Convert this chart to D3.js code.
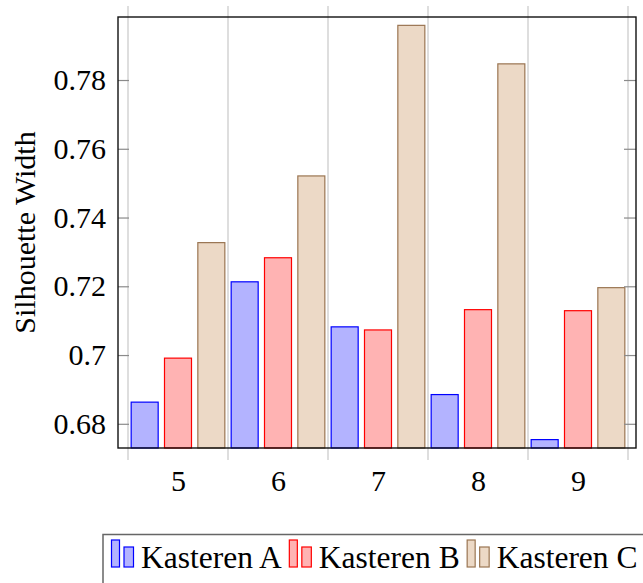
<!DOCTYPE html>
<html>
<head>
	<meta charset="utf-8">
	<script src="https://d3js.org/d3.v7.min.js"></script>
	<style>
		body { margin: 0; background: #fff; }
		svg text { fill: #000; }
		.axis path { display: none; }
	</style>
</head>
<body>
	<svg width="643" height="583"></svg>
	<script>
		var categories = [5, 6, 7, 8, 9];
		var seriesNames = ["Kasteren A", "Kasteren B", "Kasteren C"];
		var kasterenA = [0.6863, 0.7213, 0.7082, 0.6885, 0.6754];
		var kasterenB = [0.6991, 0.7283, 0.7073, 0.7132, 0.7129];
		var kasterenC = [0.7327, 0.7521, 0.7959, 0.7847, 0.7196];
		var yTicks = [0.68, 0.70, 0.72, 0.74, 0.76, 0.78];
		var yTickLabels = ["0.68", "0.7", "0.72", "0.74", "0.76", "0.78"];
		var xGrid = [4.5, 5.5, 6.5, 7.5, 8.5, 9.5];

		var fills = ["#b3b3ff", "#ffb3b3", "#ecd9c6"];
		var strokes = ["#0000ff", "#ff0000", "#9a7552"];
		var series = [kasterenA, kasterenB, kasterenC];
		var serif = "Liberation Serif";

		var svg = d3.select("svg");
		var pLeft = 118, pRight = 636, pTop = 17, pBottom = 448;

		var x = d3.scaleLinear().domain([4.4, 9.58]).range([pLeft, pRight]);
		var y = d3.scaleLinear().domain([0.67296, 0.79833]).range([pBottom, pTop]);

		// vertical grid lines, sticking out above and below the box
		svg.append("g").selectAll("line")
			.data(xGrid)
			.enter().append("line")
			.attr("x1", function(d) { return x(d); })
			.attr("x2", function(d) { return x(d); })
			.attr("y1", pTop - 11)
			.attr("y2", pBottom + 12)
			.attr("stroke", "#cccccc")
			.attr("stroke-width", 1.3);

		var offset = 1 / 3, barW = 0.27;
		series.forEach(function(vals, i) {
			svg.append("g").selectAll("rect")
				.data(vals)
				.enter().append("rect")
				.attr("x", function(d, j) { return x(categories[j] + (i - 1) * offset - barW / 2); })
				.attr("width", x(barW) - x(0))
				.attr("y", function(d) { return y(d); })
				.attr("height", function(d) { return pBottom - y(d); })
				.attr("fill", fills[i])
				.attr("stroke", strokes[i])
				.attr("stroke-width", 1.2);
		});

		// y ticks on both sides, inside
		svg.append("g")
			.attr("class", "axis")
			.attr("transform", "translate(" + pLeft + ",0)")
			.call(d3.axisLeft(y).tickValues(yTicks).tickSize(-11).tickPadding(12)
				.tickFormat(function(d, i) { return yTickLabels[i]; }))
			.selectAll("line").attr("stroke", "#8a8a8a").attr("stroke-width", 1.2);

		svg.append("g")
			.attr("class", "axis")
			.attr("transform", "translate(" + pRight + ",0)")
			.call(d3.axisRight(y).tickValues(yTicks).tickSize(-12).tickFormat(""))
			.selectAll("line").attr("stroke", "#8a8a8a").attr("stroke-width", 1.2);

		svg.append("g")
			.attr("class", "axis")
			.attr("transform", "translate(0," + pBottom + ")")
			.call(d3.axisBottom(x).tickValues(categories).tickSize(0).tickPadding(22)
				.tickFormat(d3.format("d")));

		svg.selectAll(".axis").attr("font-family", serif).attr("font-size", 30);

		// box
		svg.append("rect")
			.attr("x", pLeft).attr("y", pTop)
			.attr("width", pRight - pLeft).attr("height", pBottom - pTop)
			.attr("fill", "none").attr("stroke", "#111").attr("stroke-width", 1.4);

		svg.append("text")
			.attr("transform", "translate(35," + (pTop + pBottom) / 2 + ") rotate(-90)")
			.attr("text-anchor", "middle")
			.attr("font-family", serif)
			.attr("font-size", 30)
			.text("Silhouette Width");

		// legend
		var legend = svg.append("g");
		legend.append("rect")
			.attr("x", 103).attr("y", 534.5)
			.attr("width", 600).attr("height", 80)
			.attr("fill", "#fff").attr("stroke", "#666").attr("stroke-width", 1.5);

		var lx = 111;
		seriesNames.forEach(function(name, i) {
			legend.append("rect")
				.attr("x", lx + 0.5).attr("y", 540)
				.attr("width", 8).attr("height", 27)
				.attr("fill", fills[i]).attr("stroke", strokes[i]).attr("stroke-width", 1.2);
			legend.append("rect")
				.attr("x", lx + 13).attr("y", 547)
				.attr("width", 9.5).attr("height", 20)
				.attr("fill", fills[i]).attr("stroke", strokes[i]).attr("stroke-width", 1.2);
			var t = legend.append("text")
				.attr("x", lx + 30).attr("y", 568)
				.attr("font-family", serif)
				.attr("font-size", 31.5)
				.text(name);
			lx += 30 + t.node().getComputedTextLength() + 7;
		});
	</script>
</body>
</html>
